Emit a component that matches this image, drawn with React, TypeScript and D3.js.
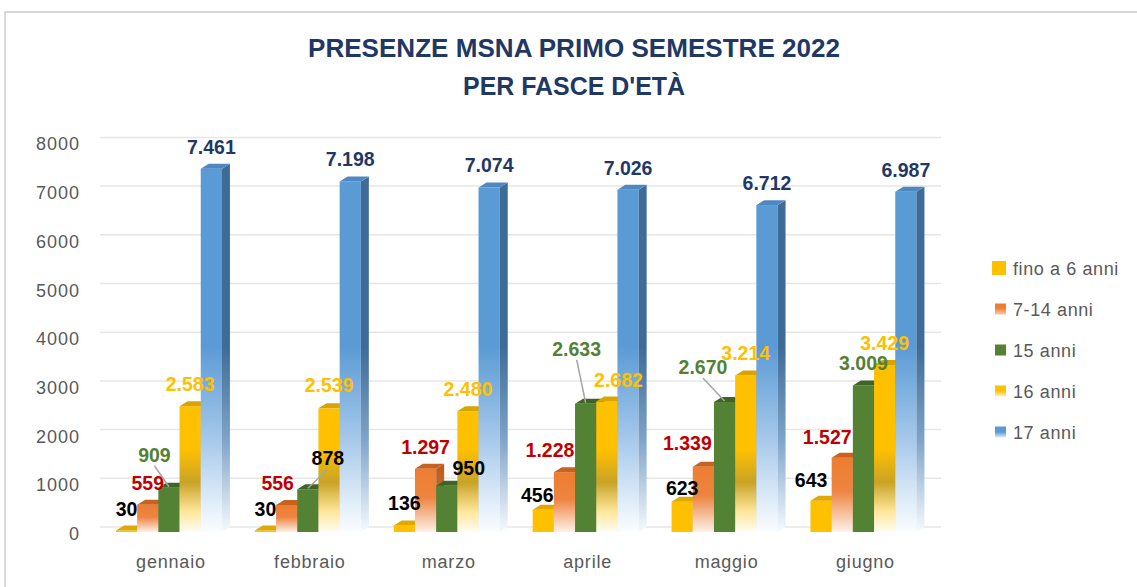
import React from 'react';
import * as d3 from 'd3';

// ---- data ----
const months = ['gennaio', 'febbraio', 'marzo', 'aprile', 'maggio', 'giugno'];
const seriesNames = ['fino a 6 anni', '7-14 anni', '15 anni', '16 anni', '17 anni'];
const fino6 = [30, 30, 136, 456, 623, 643];
const anni7_14 = [559, 556, 1297, 1228, 1339, 1527];
const anni15 = [909, 878, 950, 2633, 2670, 3009];
const anni16 = [2583, 2539, 2480, 2682, 3214, 3429];
const anni17 = [7461, 7198, 7074, 7026, 6712, 6987];
const yTicks = [0, 1000, 2000, 3000, 4000, 5000, 6000, 7000, 8000];
const titleLines = ['PRESENZE MSNA PRIMO SEMESTRE 2022', "PER FASCE D'ETÀ"];

const seriesValues = [fino6, anni7_14, anni15, anni16, anni17];

// ---- styling ----
const W = 1137;
const H = 587;
const BAR_W = 21.2;
const DX = 8;
const DY = -5;
const seriesKeys = ['s0', 's1', 's2', 's3', 's4'];
const faceColors = [
  { front: '#FFC000', side: '#C99700', top: '#E0A800' },
  { front: 'url(#g-s1)', side: 'url(#g-s1-side)', top: '#C8621E' },
  { front: '#548235', side: '#37561F', top: '#3E6526' },
  { front: 'url(#g-s3)', side: 'url(#g-s3-side)', top: '#D9A300' },
  { front: 'url(#g-s4)', side: 'url(#g-s4-side)', top: '#4F88C0' },
];
const legendFill = ['#FFC000', 'url(#lg-s1)', '#548235', 'url(#lg-s3)', 'url(#lg-s4)'];
const labelColors = ['#000000', '#C00000', '#538135', '#FFC000', '#1F3864'];
const labelColorOverride: Record<string, string> = { '2-1': '#000000', '2-2': '#000000' };
// label centre offsets relative to the bar's top centre
const labelOffset: Record<string, [number, number]> = {
  '0-3': [-6, -15], '0-4': [0, -14], '0-5': [-10, -21],
  '1-1': [-9, -22], '1-3': [-14.5, -22], '1-4': [-16, -24], '1-5': [-15, -21],
  '2-0': [-14.5, -33], '2-1': [20, -31], '2-2': [22, -18], '2-3': [-9, -55], '2-4': [-21.6, -35], '2-5': [0, -22.5],
  '3-1': [0, -23], '3-3': [11.6, -21],
};
const leaders = ['2-0', '2-1', '2-3', '2-4'];

const itFormat = d3.formatLocale({ decimal: ',', thousands: '.', grouping: [3], currency: ['€', ''] }).format(',d');

export default function App() {
  const x0 = d3.scaleBand<string>().domain(months).range([99.5, 932.9]).paddingInner(0.237).paddingOuter(0.1185);
  const x1 = d3.scaleBand<string>().domain(seriesKeys).range([0, x0.bandwidth()]);
  const y = d3.scaleLinear().domain([0, 8000]).range([532, 142.4]);

  const bars: JSX.Element[] = [];
  const labels: JSX.Element[] = [];
  months.forEach((m, mi) => {
    seriesKeys.forEach((s, si) => {
      const v = seriesValues[si][mi];
      const bx = (x0(m) as number) + (x1(s) as number);
      const bw = BAR_W;
      const yt = y(v);
      const yb = y(0);
      const c = faceColors[si];
      bars.push(
        <g key={`b-${mi}-${si}`}>
          <rect x={bx} y={yt} width={bw} height={yb - yt} fill={c.front} />
          <polygon
            points={`${bx + bw},${yt} ${bx + bw + DX},${yt + DY} ${bx + bw + DX},${yb + DY} ${bx + bw},${yb}`}
            fill={c.side}
          />
          <polygon
            points={`${bx},${yt} ${bx + DX},${yt + DY} ${bx + bw + DX},${yt + DY} ${bx + bw},${yt}`}
            fill={c.top}
          />
        </g>
      );
      const key = `${si}-${mi}`;
      const off = labelOffset[key] || [0, -22];
      const cx = bx + bw / 2 + off[0];
      const cy = yt + off[1];
      if (leaders.includes(key)) {
        labels.push(
          <line key={`l-${key}`} x1={cx} y1={cy + 11} x2={bx + bw / 2} y2={yt - 1} stroke="#A6A6A6" strokeWidth={1.5} />
        );
      }
      labels.push(
        <text
          key={`t-${key}`}
          x={cx}
          y={cy + 7}
          textAnchor="middle"
          fontFamily="'Liberation Sans', Arial, sans-serif"
          fontWeight="bold"
          fontSize={19.5}
          fill={labelColorOverride[key] || labelColors[si]}
        >
          {itFormat(v)}
        </text>
      );
    });
  });

  return (
    <svg width={W} height={H} style={{ position: 'absolute', left: 0, top: 0 }}>
      <defs>
        <linearGradient id="g-s1" x1="0" y1="0" x2="0" y2="1">
          <stop offset="0" stopColor="#ED7D31" />
          <stop offset="0.45" stopColor="#EE8440" />
          <stop offset="1" stopColor="#FDF1E9" />
        </linearGradient>
        <linearGradient id="g-s1-side" x1="0" y1="0" x2="0" y2="1">
          <stop offset="0" stopColor="#B85C1E" />
          <stop offset="0.45" stopColor="#C46C30" />
          <stop offset="1" stopColor="#F7DCCB" />
        </linearGradient>
        <linearGradient id="g-s3" gradientUnits="userSpaceOnUse" x1="0" y1={y(1700)} x2="0" y2={y(0)}>
          <stop offset="0" stopColor="#FFC000" />
          <stop offset="0.4" stopColor="#C9A326" />
          <stop offset="0.75" stopColor="#FFE699" />
          <stop offset="1" stopColor="#FFFDF4" />
        </linearGradient>
        <linearGradient id="g-s3-side" gradientUnits="userSpaceOnUse" x1="0" y1={y(1700)} x2="0" y2={y(0)}>
          <stop offset="0" stopColor="#BF9000" />
          <stop offset="0.4" stopColor="#8E7A24" />
          <stop offset="1" stopColor="#FFF6DA" />
        </linearGradient>
        <linearGradient id="g-s4" gradientUnits="userSpaceOnUse" x1="0" y1={y(3800)} x2="0" y2={y(0)}>
          <stop offset="0" stopColor="#5B9BD5" />
          <stop offset="0.5" stopColor="#A6C8EA" />
          <stop offset="0.85" stopColor="#E2EEF9" />
          <stop offset="1" stopColor="#FBFDFF" />
        </linearGradient>
        <linearGradient id="g-s4-side" gradientUnits="userSpaceOnUse" x1="0" y1={y(3800)} x2="0" y2={y(0)}>
          <stop offset="0" stopColor="#3E6C96" />
          <stop offset="0.5" stopColor="#7FA3C8" />
          <stop offset="1" stopColor="#F6FAFE" />
        </linearGradient>
        <linearGradient id="lg-s1" x1="0" y1="0" x2="0" y2="1">
          <stop offset="0.4" stopColor="#ED7D31" />
          <stop offset="1" stopColor="#F8CBAD" />
        </linearGradient>
        <linearGradient id="lg-s3" x1="0" y1="0" x2="0" y2="1">
          <stop offset="0.5" stopColor="#FFC000" />
          <stop offset="1" stopColor="#FFF2CC" />
        </linearGradient>
        <linearGradient id="lg-s4" x1="0" y1="0" x2="0" y2="1">
          <stop offset="0.5" stopColor="#5B9BD5" />
          <stop offset="1" stopColor="#DEEBF7" />
        </linearGradient>
      </defs>
      <rect x={0} y={0} width={W} height={H} fill="#ffffff" />
      <rect x={5} y={12} width={W + 20} height={H + 20} fill="#ffffff" stroke="#D9D9D9" strokeWidth={2} />

      {titleLines.map((t, i) => (
        <text
          key={t}
          x={574}
          y={57 + i * 38}
          textAnchor="middle"
          fontFamily="'Liberation Sans', Arial, sans-serif"
          fontWeight="bold"
          fontSize={26}
          fill="#1F3864"
          textLength={i === 0 ? 532 : 222}
          lengthAdjust="spacingAndGlyphs"
        >
          {t}
        </text>
      ))}

      {yTicks.map((t) => (
        <g key={t}>
          <line x1={100} x2={941} y1={y(t) - 5} y2={y(t) - 5} stroke="#E6E6E6" strokeWidth={1.5} />
          <text
            x={80}
            y={y(t) + 8}
            textAnchor="end"
            fontFamily="'Liberation Sans', Arial, sans-serif"
            fontSize={18}
            letterSpacing={1}
            fill="#595959"
          >
            {t}
          </text>
        </g>
      ))}

      {bars}
      {labels}

      {months.map((m) => (
        <text
          key={m}
          x={(x0(m) as number) + x0.bandwidth() / 2 + 2}
          y={568}
          textAnchor="middle"
          fontFamily="'Liberation Sans', Arial, sans-serif"
          fontSize={18}
          letterSpacing={0.8}
          fill="#595959"
        >
          {m}
        </text>
      ))}

      {seriesNames.map((n, i) => {
        const cy = 268 + i * 41;
        const sz = i === 0 ? 14 : 11;
        return (
          <g key={n}>
            <rect x={1006 - sz} y={cy - sz / 2} width={sz} height={sz} fill={legendFill[i]} />
            <text
              x={1013}
              y={cy + 6.5}
              fontFamily="'Liberation Sans', Arial, sans-serif"
              fontSize={18}
              letterSpacing={0.6}
              fill="#595959"
            >
              {n}
            </text>
          </g>
        );
      })}
    </svg>
  );
}
